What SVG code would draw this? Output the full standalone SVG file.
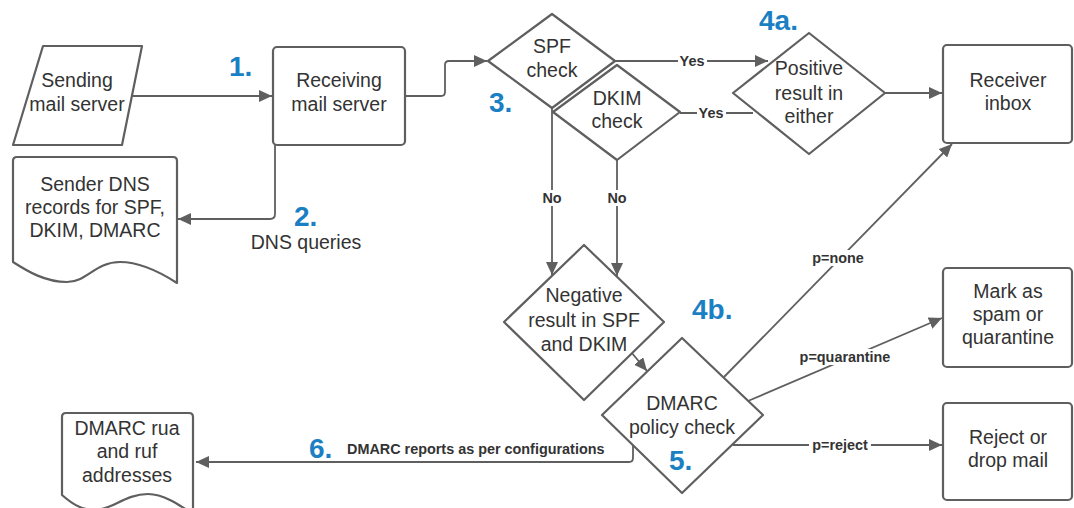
<svg xmlns="http://www.w3.org/2000/svg" width="1074" height="508" viewBox="0 0 1074 508">
<defs>
<marker id="arr" markerUnits="userSpaceOnUse" markerWidth="14" markerHeight="12" refX="13" refY="6" orient="auto">
<path d="M0,0 L13,6 L0,12 Z" fill="#5f5f5f"/>
</marker>
<style>
.shape{fill:#fff;stroke:#5f5f5f;stroke-width:2.2;stroke-linejoin:round}
.t{font-family:"Liberation Sans",Arial,sans-serif;font-size:19.5px;fill:#333;text-anchor:middle}
.lbl{font-family:"Liberation Sans",Arial,sans-serif;font-size:14.4px;font-weight:bold;fill:#333;text-anchor:middle}
.num{font-family:"Liberation Sans",Arial,sans-serif;font-size:28px;font-weight:bold;fill:#1b7fc3}
.c{fill:none;stroke:#5f5f5f;stroke-width:1.8}
.ca{fill:none;stroke:#5f5f5f;stroke-width:1.8;marker-end:url(#arr)}
.bg{fill:#fff}
</style>
</defs>
<rect width="1074" height="508" fill="#fff"/>

<g id="connectors">
<path class="ca" d="M132,96 H272"/>
<path class="ca" d="M275,145 V214 Q275,219 270,219 H178"/>
<path class="ca" d="M405,96 H441 Q445,96 445,92 V65 Q445,61 449,61 H487"/>
<path class="ca" d="M615,61 H768"/>
<path class="c" d="M680,113 H753"/>
<path class="ca" d="M885,93 H942"/>
<path class="ca" d="M552,108 V275"/>
<path class="ca" d="M617,160 V276"/>
<path class="ca" d="M631,352 L647,371"/>
<path class="ca" d="M724,377 L952,144"/>
<path class="ca" d="M748,401 L942,318"/>
<path class="ca" d="M733,445 H942"/>
<path class="ca" d="M633,445 V458 Q633,462 629,462 H196"/>
<rect class="bg" x="678" y="53" width="29" height="15"/>
<text class="lbl" x="692" y="66">Yes</text>
<rect class="bg" x="697" y="105" width="29" height="15"/>
<text class="lbl" x="711" y="118">Yes</text>
<rect class="bg" x="540" y="190" width="24" height="16"/>
<text class="lbl" x="552" y="203">No</text>
<rect class="bg" x="605" y="190" width="24" height="16"/>
<text class="lbl" x="617" y="203">No</text>
<rect class="bg" x="809" y="250" width="58" height="16"/>
<text class="lbl" x="838" y="263">p=none</text>
<rect class="bg" x="798" y="349" width="94" height="16"/>
<text class="lbl" x="845" y="362">p=quarantine</text>
<rect class="bg" x="809" y="437" width="62" height="16"/>
<text class="lbl" x="840" y="450">p=reject</text>
<text class="lbl" x="347" y="454" style="text-anchor:start">DMARC reports as per configurations</text>
<text class="t" x="306" y="249">DNS queries</text>
</g>

<g id="sending">
<path class="shape" d="M43,46 H142 L122,145 H13 Z"/>
<text class="t" x="77" y="87">Sending</text>
<text class="t" x="77" y="111">mail server</text>
</g>

<g id="receiving">
<rect class="shape" x="273" y="47" width="132" height="98" rx="4"/>
<text class="t" x="339" y="87">Receiving</text>
<text class="t" x="339" y="111">mail server</text>
</g>

<g id="senderdns">
<path class="shape" d="M13,161 Q13,157 17,157 H173 Q177,157 177,161 V283 C160,272 140,262 120,262 C95,262 87,282 67,282 C45,282 27,271 13,262 Z"/>
<text class="t" x="95" y="191">Sender DNS</text>
<text class="t" x="95" y="214">records for SPF,</text>
<text class="t" x="95" y="237">DKIM, DMARC</text>
</g>

<g id="spf">
<path class="shape" d="M488,61 L552,14 L615,61 L552,108 Z"/>
<text class="t" x="552" y="53">SPF</text>
<text class="t" x="552" y="77">check</text>
</g>

<g id="dkim">
<path class="shape" d="M553,112 L617,65 L680,112 L617,160 Z"/>
<text class="t" x="617" y="105">DKIM</text>
<text class="t" x="617" y="128">check</text>
</g>

<g id="positive">
<path class="shape" d="M733,93 L809,33 L885,93 L809,154 Z"/>
<text class="t" x="809" y="75">Positive</text>
<text class="t" x="809" y="100">result in</text>
<text class="t" x="809" y="123">either</text>
</g>

<g id="inbox">
<rect class="shape" x="943" y="45" width="129" height="98" rx="4"/>
<text class="t" x="1008" y="87">Receiver</text>
<text class="t" x="1008" y="110">inbox</text>
</g>

<g id="negative">
<path class="shape" d="M504,322 L584,245 L664,322 L584,400 Z"/>
<text class="t" x="584" y="302">Negative</text>
<text class="t" x="584" y="327">result in SPF</text>
<text class="t" x="584" y="351">and DKIM</text>
</g>

<g id="dmarc">
<path class="shape" d="M602,415 L682,338 L763,415 L682,493 Z"/>
<text class="t" x="682" y="410">DMARC</text>
<text class="t" x="682" y="434">policy check</text>
</g>

<g id="spam">
<rect class="shape" x="943" y="268" width="129" height="99" rx="4"/>
<text class="t" x="1008" y="298">Mark as</text>
<text class="t" x="1008" y="321">spam or</text>
<text class="t" x="1008" y="344">quarantine</text>
</g>

<g id="reject">
<rect class="shape" x="943" y="403" width="129" height="97" rx="4"/>
<text class="t" x="1008" y="444">Reject or</text>
<text class="t" x="1008" y="467">drop mail</text>
</g>

<g id="rua">
<path class="shape" d="M62,417 Q62,413 66,413 H189 Q193,413 193,417 V514 C178,504 163,494 148,494 C125,494 112,510 95,510 C80,510 70,502 62,495 Z"/>
<text class="t" x="127" y="435">DMARC rua</text>
<text class="t" x="127" y="458">and ruf</text>
<text class="t" x="127" y="482">addresses</text>
</g>

<g id="numbers">
<text class="num" x="229" y="76">1.</text>
<text class="num" x="294" y="226">2.</text>
<text class="num" x="489" y="112">3.</text>
<text class="num" x="759" y="30">4a.</text>
<text class="num" x="692" y="319">4b.</text>
<text class="num" x="669" y="470">5.</text>
<text class="num" x="309" y="458">6.</text>
</g>
</svg>
